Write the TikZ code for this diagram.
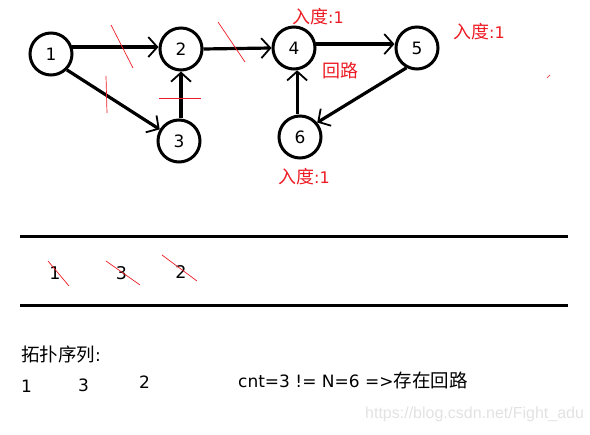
\documentclass[tikz,border=0pt]{standalone}
\usepackage{fontspec}
\setmainfont{DejaVu Sans}
\newfontfamily\zh{Noto Sans CJK SC}
\newfontfamily\wmfont{Liberation Sans}
\usetikzlibrary{arrows.meta}
\definecolor{pred}{RGB}{237,28,36}
\definecolor{wm}{RGB}{226,226,226}
\begin{document}
\begin{tikzpicture}[x=1pt,y=-1pt,
  vtx/.style={circle,draw,line width=3pt,minimum size=42pt,inner sep=0pt,font=\fontsize{17}{17}\selectfont},
  edge/.style={line width=3.2pt,-{Straight Barb[length=9pt,width=20pt,line width=1.8pt]}},
  strike/.style={draw=pred,line width=0.7pt},
  rlab/.style={text=pred,font=\fontsize{16}{16}\selectfont,inner sep=0pt},
  blab/.style={font=\fontsize{17}{17}\selectfont,inner sep=0pt,anchor=base west},
  rule/.style={line width=3pt}]
\useasboundingbox (0,0) rectangle (590,435);
% vertices
\node[vtx] (n1) at (51,54) {1};
\node[vtx] (n2) at (181,49) {2};
\node[vtx] (n3) at (179,141) {3};
\node[vtx] (n4) at (294,48) {4};
\node[vtx] (n5) at (417,48) {5};
\node[vtx] (n6) at (300,137) {6};
% edges
\draw[edge] (n1.18) -- (n1.18 -| n2.west);
\draw[edge] (n1.-45) -- (n3.149);
\draw[edge] (n3.north -| n2.south) -- (n2.south);
\draw[edge] (n2.east) -- (n4.west);
\draw[edge] (n4.10) -- (n4.10 -| n5.west);
\draw[edge] (n5.-118) -- (n6.40);
\draw[edge] (n6.north -| n4.-82) -- (n4.-82);
% red strike marks
\coordinate (s1a) at (111,25); \coordinate (s1b) at (133,68);
\coordinate (s2a) at (218,22); \coordinate (s2b) at (245,62);
\coordinate (s3a) at (106,76); \coordinate (s3b) at (107,113);
\coordinate (s4a) at (159,98); \coordinate (s4b) at (201,98);
\coordinate (s5a) at (547,78); \coordinate (s5b) at (550,75);
\draw[strike] (s1a) -- (s1b);
\draw[strike] (s2a) -- (s2b);
\draw[strike] (s3a) -- (s3b);
\draw[strike] (s4a) -- (s4b);
\draw[strike] (s5a) -- (s5b);
% red labels
\node[rlab] (l4) at (318,16.5) {{\zh\fontsize{18}{18}\selectfont 入度}:1};
\node[rlab] (l5) at (479,31.5) {{\zh\fontsize{18}{18}\selectfont 入度}:1};
\node[rlab] (lc) at (340,70.5) {{\zh\fontsize{18}{18}\selectfont 回路}};
\node[rlab] (l6) at (304,176.5) {{\zh\fontsize{18}{18}\selectfont 入度}:1};
% rules
\coordinate (r1a) at (20,237); \coordinate (r1b) at (568,237);
\coordinate (r2a) at (20,306); \coordinate (r2b) at (568,306);
\draw[rule] (r1a) -- (r1b);
\draw[rule] (r2a) -- (r2b);
% crossed sequence
\node[font=\fontsize{17.5}{17.5}\selectfont,inner sep=0pt] (q1) at (55,273.5) {1};
\node[font=\fontsize{17.5}{17.5}\selectfont,inner sep=0pt] (q3) at (121.5,273) {3};
\node[font=\fontsize{17.5}{17.5}\selectfont,inner sep=0pt] (q2) at (181,272) {2};
\coordinate (c1a) at (48,261); \coordinate (c1b) at (69,286);
\coordinate (c3a) at (106,261); \coordinate (c3b) at (140,285);
\coordinate (c2a) at (162,255); \coordinate (c2b) at (197,281);
\draw[strike] (c1a) -- (c1b);
\draw[strike] (c3a) -- (c3b);
\draw[strike] (c2a) -- (c2b);
% bottom text
\node[blab] (t0) at (21,362) {{\zh\fontsize{18.5}{18.5}\selectfont 拓扑序列}:};
\node[blab] (t1) at (21,393) {1};
\node[blab] (t2) at (78,392) {3};
\node[blab] (t3) at (139,389) {2};
\node[blab] (t4) at (238,388) {cnt=3 != N=6 =>{\zh\fontsize{18.5}{18.5}\selectfont 存在回路}};
\node[blab,text=wm,font=\wmfont\fontsize{16}{16}\selectfont] (wm) at (365,419) {https://blog.csdn.net/Fight\_adu};
\end{tikzpicture}
\end{document}
